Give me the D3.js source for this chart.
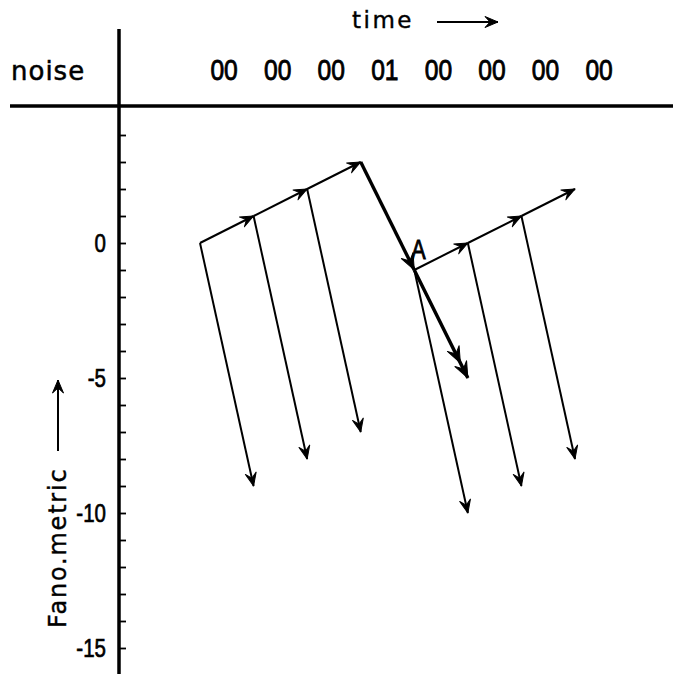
<!DOCTYPE html>
<html>
<head>
<meta charset="utf-8">
<script src="https://cdn.jsdelivr.net/npm/d3@7"></script>
<style>
  html, body { margin: 0; padding: 0; background: #fff; }
  svg { display: block; }
</style>
</head>
<body>
<script>
// ---------- data ----------
const noiseLabels   = ["00", "00", "00", "01", "00", "00", "00", "00"];
const pathLevels1   = [0, 1, 2, 3];
const pathValues1   = [0, 1, 2, 3];
const pathLevels2   = [4, 5, 6, 7];
const pathValues2   = [-1, 0, 1, 2];
const wrongLevels   = [0, 1, 2, 4, 5, 6];
const wrongFromVals = [0, 1, 2, -1, 0, 1];
const wrongToVals   = [-9, -8, -7, -10, -9, -8];
const boldLevels    = [3, 4, 5];
const boldValues    = [3, -1, -5];
const tickValues    = d3.range(4, -17, -1);
const tickLabels    = [0, -5, -10, -15];

// ---------- setup ----------
const W = 673, H = 674;
const svg = d3.select("body").append("svg").attr("width", W).attr("height", H);

const x = d3.scaleLinear().domain([0, 7]).range([200, 575]);
const y = d3.scaleLinear().domain([0, -15]).range([243, 648]);
const axisX = 119;

const defs = svg.append("defs");
function mk(id, len, half, notch) {
  defs.append("marker")
    .attr("id", id)
    .attr("markerUnits", "userSpaceOnUse")
    .attr("viewBox", `${-len - 1} ${-half - 1} ${len + 2} ${2 * half + 2}`)
    .attr("refX", 0).attr("refY", 0)
    .attr("markerWidth", len + 2).attr("markerHeight", 2 * half + 2)
    .attr("orient", "auto")
    .append("path")
    .attr("d", `M0,0 L${-len},${-half} L${-notch},0 L${-len},${half} Z`)
    .attr("fill", "#000").attr("stroke", "#000").attr("stroke-width", 1)
    .attr("stroke-linejoin", "round");
}
mk("ah", 13, 5.5, 8);
mk("ahb", 16, 6.5, 10);

// ---------- axes ----------
svg.append("line").attr("x1", 10).attr("x2", W).attr("y1", 106).attr("y2", 106)
  .attr("stroke", "#000").attr("stroke-width", 3.5);
svg.append("line").attr("x1", axisX).attr("x2", axisX).attr("y1", 29).attr("y2", H)
  .attr("stroke", "#000").attr("stroke-width", 3.5);

const yAxis = d3.axisRight(y).tickValues(tickValues).tickSize(7).tickFormat("");
const gAxis = svg.append("g").attr("transform", `translate(${axisX},0)`).call(yAxis);
gAxis.select(".domain").remove();
gAxis.selectAll(".tick line").attr("stroke", "#000").attr("stroke-width", 1.8);

svg.selectAll(".ylab").data(tickLabels).join("g")
  .attr("class", "ylab")
  .attr("transform", d => `translate(106,${y(d)}) scale(0.82,1)`)
  .append("text")
  .attr("text-anchor", "end").attr("dy", "0.36em")
  .attr("font-family", "Liberation Sans, Arial, sans-serif")
  .attr("font-size", 25)
  .attr("stroke", "#000").attr("stroke-width", 0.7)
  .text(d => d === 0 ? "0" : "-" + Math.abs(d));

// header texts
svg.append("text").attr("x", 11).attr("y", 80)
  .attr("font-family", "DejaVu Sans, sans-serif").attr("font-size", 26)
  .attr("letter-spacing", 1)
  .attr("stroke", "#000").attr("stroke-width", 0.5)
  .text("noise");

svg.append("text").attr("x", 352).attr("y", 28)
  .attr("font-family", "DejaVu Sans, sans-serif").attr("font-size", 23)
  .attr("letter-spacing", 2.5)
  .attr("stroke", "#000").attr("stroke-width", 0.4)
  .text("time");
svg.append("line").attr("x1", 437).attr("x2", 498).attr("y1", 22).attr("y2", 22)
  .attr("stroke", "#000").attr("stroke-width", 2).attr("marker-end", "url(#ah)");

svg.selectAll(".nl").data(noiseLabels).join("g")
  .attr("class", "nl")
  .attr("transform", (d, i) => `translate(${x(i + 0.45)},80) scale(0.82,1)`)
  .append("text")
  .attr("text-anchor", "middle")
  .attr("font-family", "Liberation Sans, Arial, sans-serif")
  .attr("font-size", 30)
  .attr("stroke", "#000").attr("stroke-width", 0.9)
  .text(d => d);

// vertical axis title
svg.append("text")
  .attr("transform", "translate(66,628) rotate(-90)")
  .attr("font-family", "DejaVu Sans, sans-serif").attr("font-size", 24)
  .attr("letter-spacing", 1.8)
  .attr("stroke", "#000").attr("stroke-width", 0.4)
  .text("Fano.metric");
svg.append("line").attr("x1", 58).attr("x2", 58).attr("y1", 451).attr("y2", 380)
  .attr("stroke", "#000").attr("stroke-width", 2).attr("marker-end", "url(#ah)");

// ---------- tree ----------
const thin = 2;
function segs(levels, vals) {
  const out = [];
  for (let i = 0; i < levels.length - 1; i++)
    out.push({ x1: x(levels[i]), y1: y(vals[i]), x2: x(levels[i + 1]), y2: y(vals[i + 1]) });
  return out;
}

const fwd = segs(pathLevels1, pathValues1).concat(segs(pathLevels2, pathValues2));
svg.selectAll(".fwd").data(fwd).join("line")
  .attr("class", "fwd")
  .attr("x1", d => d.x1).attr("y1", d => d.y1)
  .attr("x2", d => d.x2).attr("y2", d => d.y2)
  .attr("stroke", "#000").attr("stroke-width", thin)
  .attr("marker-end", "url(#ah)");

const wrong = wrongLevels.map((l, i) => ({
  x1: x(l), y1: y(wrongFromVals[i]), x2: x(l + 1), y2: y(wrongToVals[i])
}));
svg.selectAll(".wr").data(wrong).join("line")
  .attr("class", "wr")
  .attr("x1", d => d.x1).attr("y1", d => d.y1)
  .attr("x2", d => d.x2).attr("y2", d => d.y2)
  .attr("stroke", "#000").attr("stroke-width", thin)
  .attr("marker-end", "url(#ah)");

// bold path: second segment carries a doubled arrowhead
const bold = segs(boldLevels, boldValues);
svg.selectAll(".bd").data(bold).join("path")
  .attr("class", "bd")
  .attr("d", (d, i) => {
    if (i === 0) return `M${d.x1},${d.y1}L${d.x2},${d.y2}`;
    const mx = d.x1 + (d.x2 - d.x1) * 0.86, my = d.y1 + (d.y2 - d.y1) * 0.86;
    return `M${d.x1},${d.y1}L${mx},${my}L${d.x2},${d.y2}`;
  })
  .attr("fill", "none")
  .attr("stroke", "#000").attr("stroke-width", 3.4)
  .attr("marker-mid", (d, i) => i === 1 ? "url(#ahb)" : null)
  .attr("marker-end", "url(#ahb)");

// label A
svg.append("g").attr("transform", `translate(${x(4) - 3},${y(-1) - 11}) scale(0.8,1)`)
  .append("text")
  .attr("font-family", "Liberation Sans, Arial, sans-serif").attr("font-size", 27)
  .attr("stroke", "#000").attr("stroke-width", 0.9)
  .text("A");
</script>
</body>
</html>
